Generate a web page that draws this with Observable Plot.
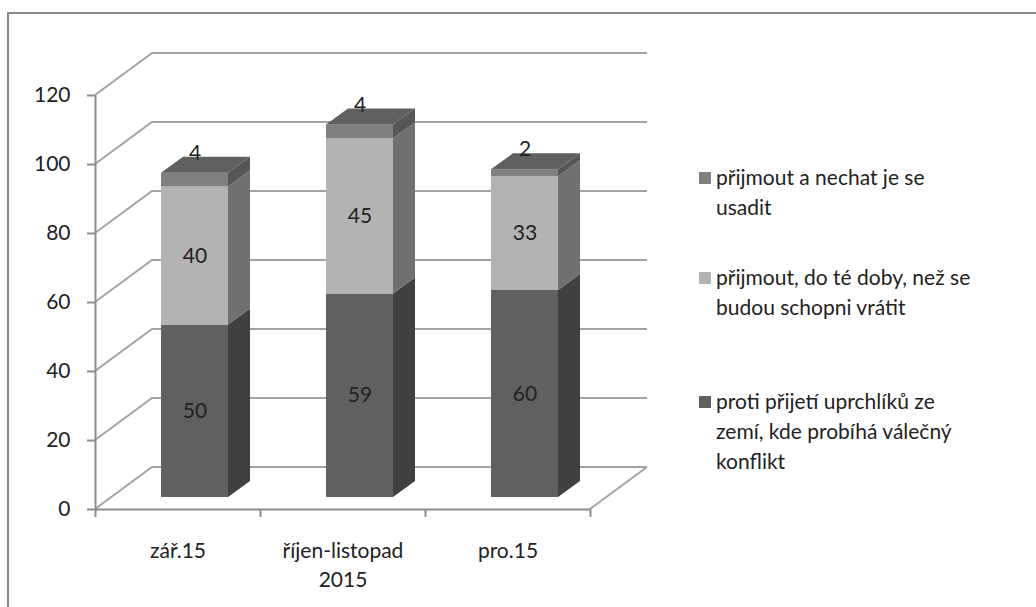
<!DOCTYPE html>
<html>
<head>
<meta charset="utf-8">
<script src="https://cdn.jsdelivr.net/npm/d3@7"></script>
<script src="https://cdn.jsdelivr.net/npm/@observablehq/plot@0.6"></script>
<style>
  html, body { margin: 0; padding: 0; background: #fff; }
  #wrap { position: relative; width: 1036px; height: 607px; overflow: hidden; font-family: Lato, "Open Sans", sans-serif; }
  #frame { position: absolute; left: 7px; top: 12px; width: 1100px; height: 700px; border-left: 2px solid #8a8a8a; border-top: 2px solid #8a8a8a; pointer-events: none; }
  #legend { position: absolute; left: 699px; top: 0; font-size: 21px; color: #222; }
  .item { position: absolute; left: 0; width: 320px; line-height: 30px; }
  .sw { position: absolute; left: 0; top: 10px; width: 12px; height: 12px; }
  .txt { position: absolute; left: 17px; top: 0; white-space: nowrap; }
</style>
</head>
<body>
<div id="wrap">
  <div id="chart"></div>
  <div id="frame"></div>
  <div id="legend"></div>
</div>
<script>
// ---- data ----
const categories = ["zář.15", "říjen-listopad\n2015", "pro.15"];
const seriesNames = [
  "proti přijetí uprchlíků ze zemí, kde probíhá válečný konflikt",
  "přijmout, do té doby, než se budou schopni vrátit",
  "přijmout a nechat je se usadit"
];
const legendLines = [
  ["proti přijetí uprchlíků ze", "zemí, kde probíhá válečný", "konflikt"],
  ["přijmout, do té doby, než se", "budou schopni vrátit"],
  ["přijmout a nechat je se", "usadit"]
];
const againstValues = [50, 59, 60];
const untilReturnValues = [40, 45, 33];
const settleValues = [4, 4, 2];
const yTicks = [0, 20, 40, 60, 80, 100, 120];

// ---- styles ----
const frontColors = ["#606060", "#b3b3b3", "#808080"];
const sideColors = ["#404040", "#707070", "#565656"];
const topColor = "#606060";
const gridColor = "#a3a3a3";
const axisColor = "#8c8c8c";
const textColor = "#222";
const FONT = 21;

// 3D geometry (pixels)
const WALL_DX = 57, WALL_DY = -42;
const BAR_DX = 17, BAR_DY = -12;
const DEPTH_DX = 22, DEPTH_DY = -16;
const INSET = 49;

const seriesValues = [againstValues, untilReturnValues, settleValues];
const rows = [];
categories.forEach((c, i) => {
  let acc = 0;
  seriesValues.forEach((vals, s) => {
    const v = vals[i];
    rows.push({cat: c, i, s, series: seriesNames[s], value: v, y1: acc, y2: acc + v, top: s === seriesValues.length - 1});
    acc += v;
  });
});

const svgNS = "http://www.w3.org/2000/svg";
function el(name, attrs) {
  const e = document.createElementNS(svgNS, name);
  for (const k in attrs) e.setAttribute(k, attrs[k]);
  return e;
}

function wallMark(index, scales) {
  const x = scales.x, y = scales.y;
  const g = el("g", {fill: "none", stroke: gridColor, "stroke-width": 2});
  const x0 = x(0), x3 = x(categories.length);
  for (const t of yTicks) {
    const yy = y(t);
    g.appendChild(el("path", {d: `M${x0},${yy}L${x0 + WALL_DX},${yy + WALL_DY}L${x3 + WALL_DX},${yy + WALL_DY}`}));
  }
  const y0 = y(0);
  g.appendChild(el("path", {d: `M${x3},${y0}L${x3 + WALL_DX},${y0 + WALL_DY}`}));
  return g;
}

function barDepthMark(index, scales) {
  const x = scales.x, y = scales.y;
  const g = el("g", {});
  for (const r of rows) {
    const xl = x(r.i) + INSET + BAR_DX;
    const xr = x(r.i + 1) - INSET + BAR_DX;
    const ya = y(r.y1) + BAR_DY, yb = y(r.y2) + BAR_DY;
    g.appendChild(el("path", {
      d: `M${xr},${ya}L${xr + DEPTH_DX},${ya + DEPTH_DY}L${xr + DEPTH_DX},${yb + DEPTH_DY}L${xr},${yb}Z`,
      fill: sideColors[r.s]
    }));
    if (r.top) {
      g.appendChild(el("path", {
        d: `M${xl},${yb}L${xl + DEPTH_DX},${yb + DEPTH_DY}L${xr + DEPTH_DX},${yb + DEPTH_DY}L${xr},${yb}Z`,
        fill: topColor
      }));
    }
  }
  return g;
}

const plot = Plot.plot({
  width: 1036,
  height: 607,
  marginLeft: 95,
  marginRight: 446,
  marginTop: 95,
  marginBottom: 98,
  style: {fontFamily: "Lato, 'Open Sans', sans-serif", fontSize: FONT + "px", background: "transparent", color: textColor},
  x: {type: "linear", domain: [0, categories.length], axis: null, label: null},
  y: {domain: [0, 120], axis: null, label: null},
  color: {domain: seriesNames, range: frontColors},
  marks: [
    wallMark,
    Plot.rect(rows, {x1: "i", x2: d => d.i + 1, y1: "y1", y2: "y2", fill: "series",
      insetLeft: INSET, insetRight: INSET, dx: BAR_DX, dy: BAR_DY}),
    barDepthMark,
    Plot.text(rows.filter(d => !d.top), {x: d => d.i + 0.5, y: d => (d.y1 + d.y2) / 2, text: d => String(d.value),
      dx: BAR_DX, dy: BAR_DY, fontSize: FONT, fill: textColor}),
    Plot.text(rows.filter(d => d.top), {x: d => d.i + 0.5, y: "y2", text: d => String(d.value),
      dx: BAR_DX, dy: BAR_DY - 20, fontSize: FONT, fill: textColor}),
    // y axis
    Plot.ruleX([0], {y1: 0, y2: 120, stroke: axisColor, strokeWidth: 2}),
    Plot.axisY({ticks: yTicks, tickSize: 8, stroke: axisColor, strokeWidth: 2, tickFormat: () => "", label: null}),
    Plot.text(yTicks, {x: 0, y: d => d, text: d => String(d), textAnchor: "end", dx: -25, fontSize: FONT, fill: textColor}),
    // x axis
    Plot.ruleY([0], {x1: 0, x2: categories.length, stroke: axisColor, strokeWidth: 2}),
    Plot.axisX({ticks: d3.range(categories.length + 1), tickSize: 8, stroke: axisColor, strokeWidth: 2, tickFormat: () => "", label: null}),
    Plot.text(categories, {x: (d, i) => i + 0.5, y: 0, text: d => d, lineAnchor: "top", dy: 28, lineHeight: 1.38, fontSize: FONT, fill: textColor})
  ]
});
document.getElementById("chart").appendChild(plot);

const legendTops = [386, 262, 162];
const legend = document.getElementById("legend");
[2, 1, 0].forEach(s => {
  const item = document.createElement("div");
  item.className = "item";
  item.style.top = legendTops[s] + "px";
  const sw = document.createElement("div");
  sw.className = "sw";
  sw.style.background = frontColors[s];
  const tx = document.createElement("div");
  tx.className = "txt";
  tx.innerHTML = legendLines[s].join("<br>");
  item.appendChild(sw);
  item.appendChild(tx);
  legend.appendChild(item);
});
</script>
</body>
</html>
